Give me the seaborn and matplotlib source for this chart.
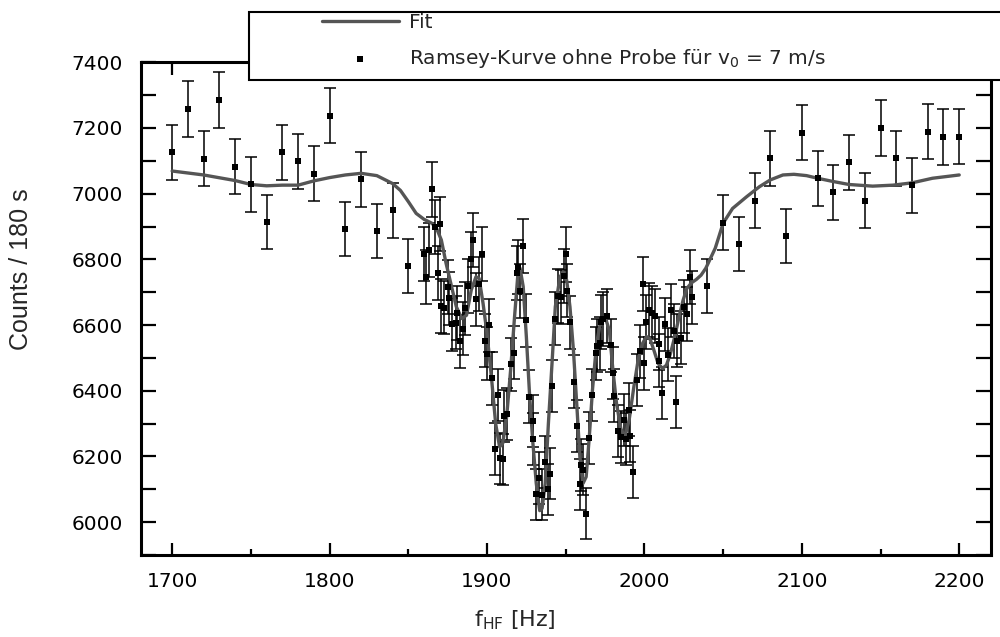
import numpy as np
import pandas as pd
import seaborn as sb
import matplotlib.pyplot as plt
from matplotlib.patches import Rectangle
from matplotlib.ticker import MultipleLocator

# Messpunkte (f_HF in Hz, Counts / 180 s)
freq = [1700, 1710, 1720, 1730, 1740, 1750, 1760, 1770, 1780, 1790, 1800, 1810,
        1820, 1830, 1840, 1850,
        1860, 1861, 1863, 1865, 1867, 1869, 1870, 1871, 1873, 1875, 1876, 1878,
        1880, 1881, 1883, 1885, 1886, 1888, 1890, 1891, 1893, 1895, 1897, 1899,
        1900, 1901, 1903, 1905, 1907, 1908.5, 1910, 1910.5, 1913, 1915, 1917, 1919,
        1920, 1921, 1923, 1925, 1927, 1929, 1929.5, 1931, 1933, 1935, 1937, 1939,
        1940, 1941.5, 1943, 1945, 1947, 1949, 1950, 1951, 1953, 1955, 1957, 1959,
        1960, 1961, 1963, 1965, 1967, 1969, 1970, 1972, 1972.5, 1974, 1976.5, 1979,
        1980, 1981, 1983, 1985, 1987, 1988.5, 1990, 1991, 1993, 1995, 1997, 1999,
        2000, 2001, 2003, 2005, 2007, 2009, 2009.5, 2011, 2013, 2015, 2017, 2019,
        2020, 2021, 2023, 2025, 2027, 2029, 2030,
        2040, 2050, 2060, 2070, 2080, 2090, 2100, 2110, 2120, 2130, 2140, 2150,
        2160, 2170, 2180, 2190, 2200]
counts = [7126, 7258, 7107, 7285, 7082, 7028, 6914, 7126, 7098, 7061, 7238, 6893,
          7044, 6886, 6949, 6781,
          6816, 6747, 6828, 7013, 6899, 6759, 6908, 6658, 6653, 6715, 6681, 6602,
          6607, 6636, 6551, 6589, 6651, 6719, 6800, 6859, 6678, 6725, 6816, 6552,
          6512, 6599, 6438, 6224, 6387, 6194, 6191, 6324, 6329, 6481, 6516, 6759,
          6778, 6703, 6841, 6614, 6382, 6252, 6309, 6085, 6135, 6084, 6184, 6100,
          6148, 6415, 6620, 6689, 6686, 6750, 6815, 6705, 6608, 6428, 6293, 6115,
          6174, 6160, 6025, 6255, 6387, 6514, 6537, 6544, 6610, 6619, 6628, 6539,
          6454, 6385, 6278, 6258, 6311, 6252, 6343, 6262, 6153, 6433, 6521, 6724,
          6484, 6609, 6646, 6638, 6628, 6491, 6543, 6393, 6602, 6509, 6645, 6582,
          6365, 6552, 6562, 6656, 6633, 6745, 6684,
          6718, 6912, 6846, 6978, 7108, 6871, 7186, 7047, 7005, 7095, 6979, 7199,
          7108, 7025, 7189, 7172, 7174]

# Fitkurve
fit_f = [1700, 1720, 1740, 1750, 1760, 1770, 1780, 1790, 1800, 1810, 1820, 1830,
         1840, 1845, 1850, 1855, 1860, 1865, 1868, 1871, 1874, 1877.5, 1880.5, 1884,
         1887, 1890, 1893, 1895, 1897.5, 1900, 1903, 1905.5, 1908, 1910, 1912.5, 1915,
         1917.5, 1919.5, 1921, 1923, 1925, 1927, 1929, 1931.3, 1933.5, 1935, 1937, 1939,
         1941.3, 1943.4, 1946.4, 1948.5, 1950.6, 1952.7, 1954.9, 1957, 1959, 1961, 1963,
         1965, 1967, 1969.6, 1972, 1975, 1977.7, 1980, 1982.3, 1985, 1987.6, 1990.3,
         1993.3, 1996, 1998.8, 2001.3, 2003.5, 2006, 2008.7, 2011.5, 2014, 2016.6,
         2019.3, 2022, 2024.6, 2027, 2030, 2033, 2036, 2039, 2045, 2050, 2056, 2065,
         2073, 2080, 2088, 2095, 2103, 2110, 2120, 2130, 2145, 2158, 2170, 2183, 2200]
fit_counts = [7069, 7057, 7040, 7028, 7024, 7026, 7026, 7039, 7049, 7057, 7062, 7055,
              7031, 7010, 6976, 6940, 6922, 6910, 6894, 6859, 6788, 6717, 6656, 6620,
              6630, 6707, 6747, 6742, 6666, 6575, 6432, 6300, 6229, 6240, 6321, 6463,
              6625, 6747, 6773, 6717, 6565, 6392, 6250, 6118, 6035, 6042, 6118, 6300,
              6483, 6656, 6747, 6762, 6737, 6656, 6524, 6361, 6199, 6118, 6138,
              6260, 6402, 6544, 6605, 6625, 6585, 6463, 6361, 6285, 6260, 6311,
              6412, 6493, 6544, 6565, 6559, 6524, 6483, 6468, 6478, 6514,
              6565, 6625, 6676, 6712, 6729, 6739, 6752, 6773, 6834, 6910, 6955, 6991,
              7021, 7042, 7057, 7059, 7055, 7047, 7037, 7028, 7023, 7026, 7033, 7047, 7057]

df = pd.DataFrame({"f": freq, "counts": counts})
# Poisson-Fehler der Zaehlrate
df["err"] = np.sqrt(df["counts"])
df_fit = pd.DataFrame({"f": fit_f, "counts": fit_counts})

sb.set_theme(style="ticks")
plt.rcParams["font.family"] = ["DejaVu Sans"]
plt.rcParams["mathtext.fontset"] = "dejavusans"

fig = plt.figure(figsize=(10, 6.37), dpi=100)
ax = fig.add_axes([0.1407, 0.1287, 0.85, 0.7735])

ax.errorbar(df["f"], df["counts"], yerr=df["err"], fmt="none", ecolor="black",
            elinewidth=1.1, capsize=4.5, capthick=1.1, zorder=2)
sb.lineplot(data=df_fit, x="f", y="counts", ax=ax, color="#555555", lw=2.4,
            estimator=None, sort=False, label="Fit", zorder=3)
sb.scatterplot(data=df, x="f", y="counts", ax=ax, marker="s", s=22, color="black",
               edgecolor="black", linewidth=0, zorder=4,
               label="Ramsey-Kurve ohne Probe für v$_0$ = 7 m/s")

ax.set_xlim(1680, 2220)
ax.set_ylim(5900, 7400)
ax.xaxis.set_major_locator(MultipleLocator(100))
ax.xaxis.set_minor_locator(MultipleLocator(50))
ax.yaxis.set_major_locator(MultipleLocator(200))
ax.yaxis.set_minor_locator(MultipleLocator(100))
ax.tick_params(which="both", direction="in", top=True, right=True, colors="black",
               labelsize=14.5, width=1.6)
ax.tick_params(axis="x", which="major", length=9, pad=12)
ax.tick_params(axis="x", which="minor", length=4)
ax.tick_params(axis="y", which="major", length=11, pad=13)
ax.tick_params(axis="y", which="minor", length=11)
for sp in ax.spines.values():
    sp.set_linewidth(2.2)
    sp.set_color("black")

ax.set_xlabel("$\\mathregular{f_{HF}}$ [Hz]", fontsize=16)
ax.xaxis.set_label_coords(0.44, -0.108)
ax.set_ylabel("Counts / 180 s", fontsize=18,
              family=["Liberation Sans", "DejaVu Sans"])
ax.yaxis.set_label_coords(-0.127, 0.58)

handles, labels = ax.get_legend_handles_labels()
ax.get_legend().remove()
box = Rectangle((0.249, 1 - 80 / 637), 0.76, 68 / 637, transform=fig.transFigure,
                facecolor="white", edgecolor="black", lw=1.5, zorder=3)
fig.patches.append(box)
fig.legend(handles, labels, loc="upper left", bbox_to_anchor=(0.322, 1 - 13 / 637),
           frameon=False, fontsize=14.5, handlelength=3.8, handletextpad=0.5,
           labelspacing=0.75, borderpad=0, borderaxespad=0)

fig.savefig("out.png", dpi=100)
